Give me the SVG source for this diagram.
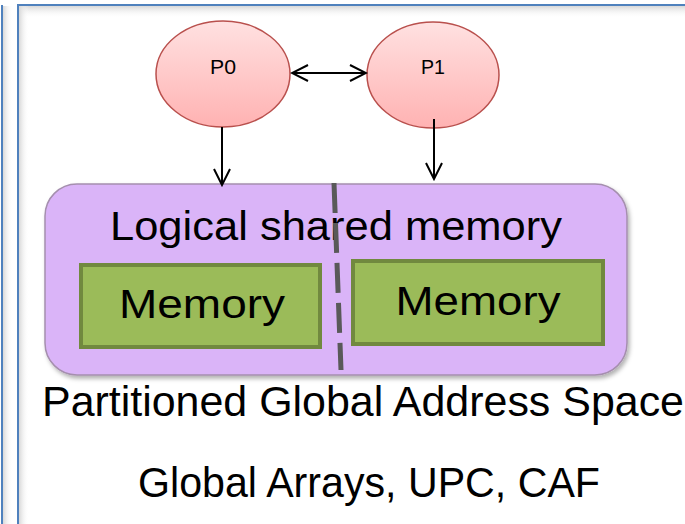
<svg xmlns="http://www.w3.org/2000/svg" width="685" height="524" viewBox="0 0 685 524">
<style>
.t{font-family:"Liberation Sans","Open Sans",sans-serif;fill:#000;}
.proc{stroke:#b9504d;stroke-width:1.5;fill:url(#pg);}
.mem{fill:#9bbb59;stroke:#71893f;stroke-width:4;}
.conn{stroke:#000;stroke-width:2;fill:none;}
</style>
<defs>
<linearGradient id="pg" x1="0" y1="0" x2="0" y2="1">
<stop offset="0" stop-color="#ffe1e1"/>
<stop offset="1" stop-color="#ffb2b2"/>
</linearGradient>
<linearGradient id="sh" x1="0" y1="0" x2="0" y2="1">
<stop offset="0" stop-color="#d8d8d8"/>
<stop offset="1" stop-color="#ffffff" stop-opacity="0"/>
</linearGradient>
<linearGradient id="shl" x1="0" y1="0" x2="1" y2="0">
<stop offset="0" stop-color="#d8d8d8"/>
<stop offset="1" stop-color="#ffffff" stop-opacity="0"/>
</linearGradient>
<filter id="ds" x="-5%" y="-5%" width="115%" height="120%">
<feDropShadow dx="2" dy="3" stdDeviation="2" flood-color="#000" flood-opacity="0.3"/>
</filter>
<marker id="ah" viewBox="0 0 20 20" refX="18" refY="10" markerWidth="20" markerHeight="20" markerUnits="userSpaceOnUse" orient="auto-start-reverse">
<path d="M2,2 L18,10 L2,18" fill="none" stroke="#000" stroke-width="2"/>
</marker>
</defs>
<rect width="685" height="524" fill="#fff"/>
<g id="frame">
<rect x="3" y="6" width="10" height="518" fill="url(#shl)"/>
<line x1="2" y1="5" x2="2" y2="524" stroke="#4f81bd" stroke-width="2"/>
<rect x="19" y="6" width="666" height="12" fill="url(#sh)"/>
<rect x="19" y="6" width="10" height="518" fill="url(#shl)"/>
<path d="M18,524 V5 H685" fill="none" stroke="#4f81bd" stroke-width="2"/>
</g>
<g id="shared">
<rect x="45" y="184" width="582" height="191" rx="32" fill="#dab4f8" stroke="#a58fae" stroke-width="1.5" filter="url(#ds)"/>
<text class="t" x="336" y="240" font-size="41" text-anchor="middle" textLength="452" lengthAdjust="spacingAndGlyphs">Logical shared memory</text>
</g>
<g id="mem0">
<rect class="mem" x="81" y="265" width="239" height="82"/>
<text class="t" x="202" y="318" font-size="41" text-anchor="middle" textLength="166" lengthAdjust="spacingAndGlyphs">Memory</text>
</g>
<g id="mem1">
<rect class="mem" x="353" y="261" width="250" height="83"/>
<text class="t" x="478" y="315" font-size="41" text-anchor="middle" textLength="165" lengthAdjust="spacingAndGlyphs">Memory</text>
</g>
<g id="divider">
<line x1="334" y1="183" x2="341" y2="370" stroke="#595959" stroke-width="5" stroke-dasharray="30,10"/>
</g>
<g id="p0">
<ellipse class="proc" cx="223" cy="74" rx="67" ry="53"/>
<text class="t" x="223" y="74" font-size="20" text-anchor="middle" textLength="26" lengthAdjust="spacingAndGlyphs">P0</text>
</g>
<g id="p1">
<ellipse class="proc" cx="433" cy="75" rx="66" ry="53"/>
<text class="t" x="433" y="74" font-size="20" text-anchor="middle" textLength="24" lengthAdjust="spacingAndGlyphs">P1</text>
</g>
<g id="connectors">
<line class="conn" x1="292" y1="73" x2="366" y2="73" marker-start="url(#ah)" marker-end="url(#ah)"/>
<line class="conn" x1="222" y1="127" x2="222" y2="185" marker-end="url(#ah)"/>
<line class="conn" x1="434" y1="119" x2="434" y2="179" marker-end="url(#ah)"/>
</g>
<g id="labels">
<text class="t" x="42" y="416" font-size="42" textLength="642" lengthAdjust="spacingAndGlyphs">Partitioned Global Address Space</text>
<text class="t" x="138" y="497" font-size="42" textLength="462" lengthAdjust="spacingAndGlyphs">Global Arrays, UPC, CAF</text>
</g>
</svg>
